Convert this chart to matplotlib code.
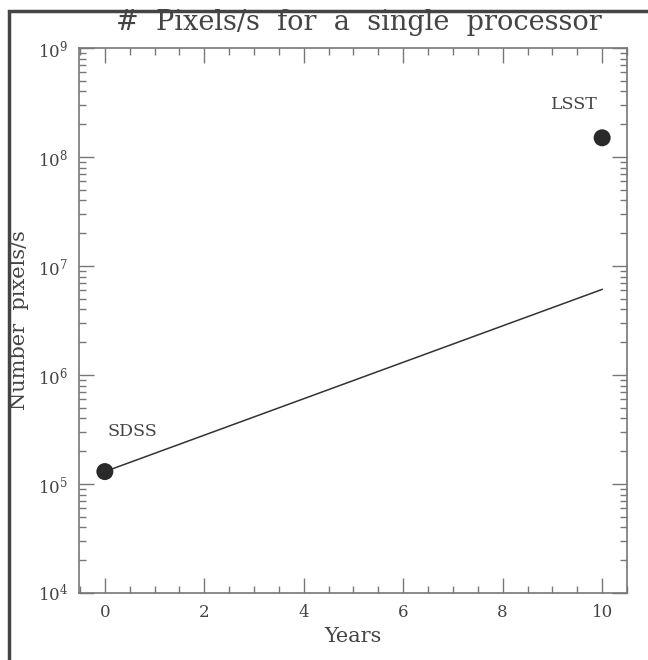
import matplotlib
matplotlib.use("Agg")
import matplotlib.pyplot as plt
from matplotlib.ticker import LogLocator, MultipleLocator, NullFormatter
from matplotlib.patches import Rectangle

# Data
years_pts = [0, 10]
pixels_pts = [1.3e5, 1.5e8]
point_labels = ["SDSS", "LSST"]
label_x = [0.55, 9.45]
label_y = [3.0e5, 3.0e8]
trend_years = [0, 10]
trend_pixels = [1.3e5, 6.1e6]

plt.rcParams['font.family'] = ['DejaVu Serif']
plt.rcParams['mathtext.fontset'] = 'dejavuserif'

txt = '#444444'
axc = '#777777'

fig = plt.figure(figsize=(6.48, 6.6), dpi=100)
ax = fig.add_axes([79/648, 1-593/660, (627-79)/648, (593-48)/660])

ax.plot(trend_years, trend_pixels, color='#333333', lw=1.1)
ax.scatter(years_pts, pixels_pts, s=150, color='#2a2a2a', zorder=3, edgecolors='none')
for x, y, s in zip(label_x, label_y, point_labels):
    ax.text(x, y, s, ha='center', va='center', fontsize=12.5, color=txt)

ax.set_yscale('log')
ax.set_xlim(-0.52, 10.5)
ax.set_ylim(1e4, 1e9)
ax.xaxis.set_major_locator(MultipleLocator(2))
ax.xaxis.set_minor_locator(MultipleLocator(0.5))
ax.yaxis.set_major_locator(LogLocator(base=10, numticks=10))
ax.yaxis.set_minor_locator(LogLocator(base=10, subs=range(2, 10), numticks=20))
ax.yaxis.set_minor_formatter(NullFormatter())

for sp in ax.spines.values():
    sp.set_color(axc)
    sp.set_linewidth(1.2)
ax.tick_params(which='both', direction='in', top=True, right=True, colors=axc,
               labelcolor=txt, labelsize=12, width=1.0)
ax.tick_params(which='major', length=11, pad=8)
ax.tick_params(which='minor', length=5)

ax.set_xlabel('Years', fontsize=15, color=txt, labelpad=4)
ax.set_ylabel('Number  pixels/s', fontsize=15, color=txt, labelpad=6)
fig.text(359/648, 1 - 23/660, '#  Pixels/s  for  a  single  processor', fontsize=19.5,
         color=txt, ha='center', va='center')

# outer frame
fig.patches.append(Rectangle((9/648, -0.1), 1.2, 1 - 11/660 + 0.1, transform=fig.transFigure,
                             fill=False, edgecolor='#444444', lw=2.5))

fig.savefig('out.png', dpi=100)
